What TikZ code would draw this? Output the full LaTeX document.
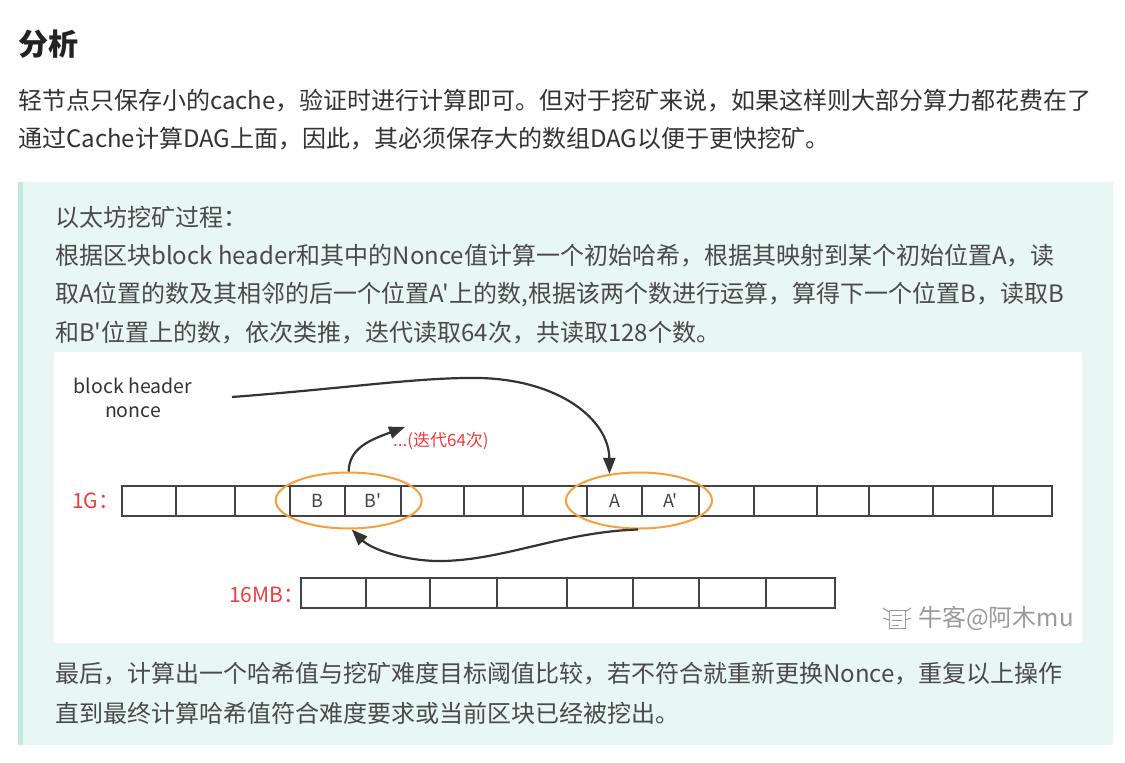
\documentclass[tikz,border=0pt]{standalone}
\usepackage{fontspec}
\newfontfamily\cjk{Noto Sans CJK SC}
\usetikzlibrary{shapes.geometric,arrows.meta}
\definecolor{boxbg}{HTML}{E8F7F3}
\definecolor{boxbar}{HTML}{BFEADC}
\definecolor{headc}{HTML}{222222}
\definecolor{txt}{HTML}{333333}
\definecolor{txtb}{HTML}{4A4A4A}
\definecolor{cellc}{HTML}{444444}
\definecolor{arrc}{HTML}{333333}
\definecolor{orng}{HTML}{F5A03C}
\definecolor{redt}{HTML}{F23C3C}
\definecolor{wm}{HTML}{9A9A9A}
\begin{document}
\begin{tikzpicture}[x=1pt,y=-1pt,
  pline/.style={anchor=west, inner sep=0pt, font=\cjk\fontsize{24}{28}\selectfont, text=txt},
  bline/.style={pline, text=txtb},
  cellbox/.style={draw=cellc, line width=2.4pt},
  ell/.style={ellipse, draw=orng, line width=2pt, minimum width=146pt, minimum height=56pt, inner sep=0pt},
  conn/.style={draw=arrc, line width=2.2pt, -{Triangle[length=16pt,width=12pt]}},
  letter/.style={inner sep=0pt, font=\cjk\fontsize{18}{20}\selectfont, text=cellc},
  redl/.style={anchor=west, inner sep=0pt, text=redt},
  dtext/.style={inner sep=0pt, text=txt, font=\cjk\fontsize{19.5}{24}\selectfont}
]
\useasboundingbox (0,0) rectangle (1125,763);
\fill[white] (0,0) rectangle (1125,763);

% heading and paragraph
\node[pline, font=\cjk\bfseries\fontsize{30}{34}\selectfont, text=headc] (head) at (18,44) {分析};
\node[pline] (p1) at (18,101) {轻节点只保存小的cache，验证时进行计算即可。但对于挖矿来说，如果这样则大部分算力都花费在了};
\node[pline] (p2) at (18,139) {通过Cache计算DAG上面，因此，其必须保存大的数组DAG以便于更快挖矿。};

% quote box
\fill[boxbg] (18,182) rectangle (1113,745);
\fill[boxbar] (18,182) rectangle (23,745);
\node[bline] (b1) at (55,217) {以太坊挖矿过程：};
\node[bline] (b2) at (55,256) {根据区块block header和其中的Nonce值计算一个初始哈希，根据其映射到某个初始位置A，读};
\node[bline] (b3) at (55,295) {取A位置的数及其相邻的后一个位置A'上的数,根据该两个数进行运算，算得下一个位置B，读取B};
\node[bline] (b4) at (55,333) {和B'位置上的数，依次类推，迭代读取64次，共读取128个数。};
\node[bline] (b5) at (55,674) {最后，计算出一个哈希值与挖矿难度目标阈值比较，若不符合就重新更换Nonce，重复以上操作};
\node[bline] (b6) at (55,713) {直到最终计算哈希值符合难度要求或当前区块已经被挖出。};

% image area
\fill[white] (54,352) rectangle (1082,643);

% 1G row
\foreach \a/\b in {122/176,176/235,235/290,290/345,345/401,401/464,464/523,523/587,587/642,642/699,699/754,754/817,817/869,869/933,933/993,993/1052}
  \draw[cellbox] (\a,486) rectangle (\b,516);
% 16MB row
\foreach \a/\b in {301/366,366/430,430/497,497/567,567/633,633/699,699/766,766/835}
  \draw[cellbox] (\a,578) rectangle (\b,608);

\node[letter] (cB) at (317.5,501) {B};
\node[letter] (cBp) at (373,501) {B'};
\node[letter] (cA) at (614.5,501) {A};
\node[letter] (cAp) at (670.5,501) {A'};

\node[redl, font=\cjk\fontsize{21}{24}\selectfont] (l1g) at (72,501) {1G：};
\node[redl, font=\cjk\fontsize{21}{24}\selectfont] (l16) at (229,595) {16MB：};

\node[dtext, align=center] (bh) at (133,398) {block header\\nonce};

\node[ell] (eB) at (348.7,500.5) {};
\node[ell] (eA) at (639,500.5) {};

\coordinate (s1) at (232,397);
\draw[conn] (s1) .. controls (350,388) and (420,377) .. (480,378)
  .. controls (560,380) and (609,420) .. (eA.138);
\draw[conn] (eA.-92) .. controls (560,532) and (500,562) .. (436,561)
  .. controls (400,560) and (370,548) .. (eB.-84);
\coordinate (t3) at (405,427);
\draw[conn] (eB.90) .. controls (349,448) and (370,440) .. (t3);
\node[redl, font=\cjk\fontsize{17}{19}\selectfont] (iter) at (393,441) {...(迭代64次)};

% watermark
\draw[wm, line width=1pt] (889,610) rectangle (905,628);
\draw[wm, line width=1pt] (892,615) -- (902,615) (892,620) -- (902,620) (892,625) -- (899,625);
\draw[wm, line width=1pt] (889,612) -- (883,608) (905,612) -- (911,608) (883,618) -- (889,620) (911,618) -- (905,620);
\node[anchor=west, inner sep=0pt, text=wm, font=\cjk\fontsize{24}{26}\selectfont] (wmk) at (918,618) {牛客@阿木mu};
\end{tikzpicture}
\end{document}
